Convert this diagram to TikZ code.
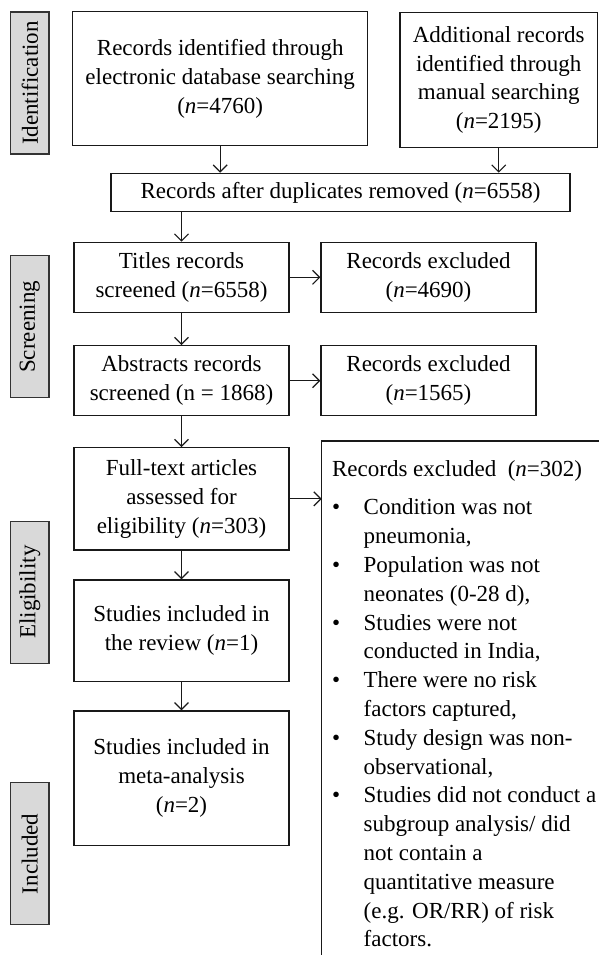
\documentclass[tikz,border=0pt]{standalone}
\usepackage{fontspec}
\setmainfont{Liberation Serif}
\usetikzlibrary{arrows.meta}
\newcommand{\prfont}{\fontsize{11.5}{14.4}\selectfont}
\newcommand{\exitem}{\makebox[15.8pt][l]{\textbullet}}
\newcommand{\exindent}{\hspace*{15.8pt}}
\tikzset{prbox/.style={draw=black!90, line width=0.6pt, align=center,
    inner sep=0pt, font=\prfont}}
\tikzset{phase/.style={draw=black!80, fill=black!15, line width=0.6pt,
    rotate=90, inner sep=0pt, minimum width=71pt, minimum height=19.15pt,
    font=\prfont}}
\tikzset{arr/.style={draw=black!90, line width=0.6pt,
    -{Straight Barb[length=3.5pt,width=7pt]}}}
\begin{document}
\begin{tikzpicture}[x=0.5pt, y=-0.5pt]
    \useasboundingbox (0,0) rectangle (599,955);
    \clip (0,0) rectangle (599,955);

    % phases
    \node[phase] (lid) at (29.85,83) {Identification};
    \node[phase] (lscr) at (29.85,326.85) {Screening};
    \node[phase] (lelig) at (29.85,592.15) {Eligibility};
    \node[phase] (linc) at (29.85,853.85) {Included};

    % identification
    \node[prbox, minimum width=147.5pt, minimum height=67pt] (dbsearch) at (220.2,78.7)
        {Records identified through\\electronic database searching\\(\textit{n}=4760)};
    \node[prbox, minimum width=98.75pt, minimum height=67.3pt] (manual) at (498.75,80)
        {Additional records\\identified through\\manual searching\\(\textit{n}=2195)};
    \node[prbox, minimum width=229.5pt, minimum height=19.2pt] (dedup) at (340.5,192.5)
        {Records after duplicates removed (\textit{n}=6558)};

    % screening
    \node[prbox, minimum width=107.5pt, minimum height=35pt] (titles) at (181.5,277.3)
        {Titles records\\screened (\textit{n}=6558)};
    \node[prbox, minimum width=107.5pt, minimum height=35pt] (excla) at (428.5,277.3)
        {Records excluded\\(\textit{n}=4690)};
    \node[prbox, minimum width=107.5pt, minimum height=35pt] (abstr) at (181.5,380.7)
        {Abstracts records\\screened (n = 1868)};
    \node[prbox, minimum width=107.5pt, minimum height=35pt] (exclb) at (428.5,380.7)
        {Records excluded\\(\textit{n}=1565)};

    % eligibility, included
    \node[prbox, minimum width=107.5pt, minimum height=51.15pt] (fulltext) at (181.5,498.85)
        {Full-text articles\\assessed for\\eligibility (\textit{n}=303)};
    \node[prbox, minimum width=107.5pt, minimum height=50.85pt] (review) at (181.5,630.85)
        {Studies included in\\the review (\textit{n}=1)};
    \node[prbox, minimum width=107.5pt, minimum height=67.15pt] (meta) at (181.5,778.15)
        {Studies included in\\meta-analysis\\(\textit{n}=2)};

    % excluded full texts
    \coordinate (exbox) at (321.7,441);
    \draw[draw=black!90, line width=0.6pt] (exbox) rectangle (640,990);
    \node[anchor=north west, align=left, inner sep=0pt, font=\prfont] (exlist) at (331.7,460.5)
        {Records excluded\ \ (\textit{n}=302)\\[4.6pt]
        \exitem Condition was not\\ \exindent pneumonia,\\
        \exitem Population was not\\ \exindent neonates (0-28 d),\\
        \exitem Studies were not\\ \exindent conducted in India,\\
        \exitem There were no risk\\ \exindent factors captured,\\
        \exitem Study design was non-\\ \exindent observational,\\
        \exitem Studies did not conduct a\\ \exindent subgroup analysis/ did\\
        \exindent not contain a\\ \exindent quantitative measure\\
        \exindent (e.g. OR/RR) of risk\\ \exindent factors.};

    \draw[arr] (dbsearch.south) -- (dbsearch.south |- dedup.north);
    \draw[arr] (manual.south) -- (manual.south |- dedup.north);
    \draw[arr] (titles.north |- dedup.south) -- (titles.north);
    \draw[arr] (titles) -- (abstr);
    \draw[arr] (abstr) -- (fulltext);
    \draw[arr] (fulltext) -- (review);
    \draw[arr] (review) -- (meta);
    \draw[arr] (titles) -- (excla);
    \draw[arr] (abstr) -- (exclb);
    \draw[arr] (fulltext.east) -- (fulltext.east -| exbox);
\end{tikzpicture}
\end{document}
